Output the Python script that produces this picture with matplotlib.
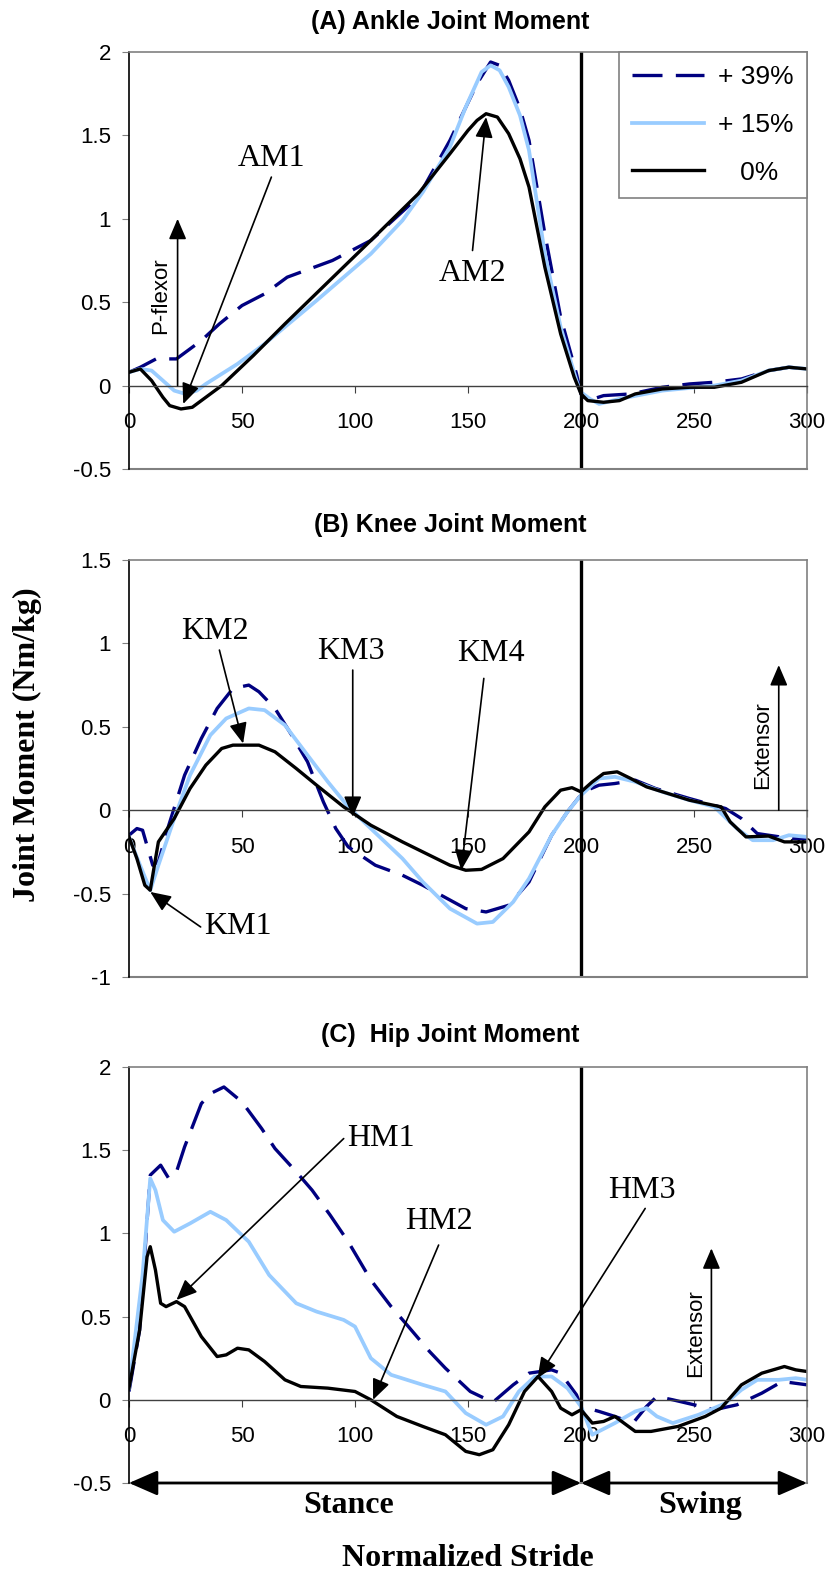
import matplotlib
matplotlib.use("Agg")
import matplotlib.pyplot as plt

# Normalized stride samples read per curve (x) and joint moments in Nm/kg (y)
# (A) ankle
ankle_x_0 = [0, 5, 10, 15, 18, 23, 28, 32, 41, 55, 69, 88, 107, 128, 142, 150, 154, 158, 163, 168, 173, 177,
             184, 191, 197, 200, 203, 210, 217, 224, 236, 248, 259, 271, 283, 292, 300]
ankle_y_0 = [0.08, 0.10, 0.03, -0.07, -0.12, -0.14, -0.13, -0.09, 0.0, 0.18, 0.37, 0.62, 0.87, 1.15, 1.39,
             1.53, 1.59, 1.63, 1.61, 1.51, 1.36, 1.19, 0.71, 0.31, 0.05, -0.05, -0.09, -0.10, -0.09, -0.05, -0.02,
             -0.01, -0.01, 0.02, 0.09, 0.11, 0.10]
ankle_x_15 = [0, 5, 10, 15, 20, 25, 30, 34, 48, 60, 83, 107, 121, 130, 142, 149, 156, 160, 164, 168, 173,
              177, 184, 191, 198, 200, 204, 208, 217, 236, 259, 271, 283, 292, 300]
ankle_y_15 = [0.08, 0.10, 0.09, 0.03, -0.03, -0.05, -0.03, 0.01, 0.13, 0.25, 0.51, 0.79, 0.99, 1.16, 1.43,
              1.67, 1.88, 1.92, 1.89, 1.79, 1.62, 1.41, 0.79, 0.35, 0.03, -0.04, -0.08, -0.11, -0.08, -0.03,
              0.0, 0.03, 0.09, 0.11, 0.10]
ankle_x_39 = [0, 5, 12, 21, 32, 40, 50, 60, 70, 90, 107, 128, 142, 154, 160, 164, 168, 173, 177, 184, 191,
              198, 200, 203, 210, 222, 236, 248, 259, 271, 283, 292, 300]
ankle_y_39 = [0.08, 0.11, 0.16, 0.16, 0.27, 0.37, 0.48, 0.55, 0.65, 0.75, 0.87, 1.13, 1.47, 1.81, 1.94,
              1.92, 1.83, 1.66, 1.47, 0.91, 0.41, 0.07, -0.05, -0.09, -0.06, -0.05, -0.01, 0.01, 0.02, 0.04,
              0.09, 0.11, 0.10]

# (B) knee
knee_x_0 = [0, 3.5, 7, 9.4, 11, 13, 15, 20, 27, 34, 41, 46, 52, 57.5, 64.6, 74, 83, 95, 107, 121, 130, 142,
            149, 156, 165.5, 177, 184, 191, 196, 200, 205, 210, 216, 222, 229, 248, 262, 266, 273, 283, 290, 300]
knee_y_0 = [-0.16, -0.29, -0.45, -0.48, -0.35, -0.19, -0.15, -0.05, 0.13, 0.27, 0.37, 0.39, 0.39, 0.39, 0.35,
            0.25, 0.15, 0.02, -0.09, -0.19, -0.25, -0.33, -0.36, -0.355, -0.29, -0.13, 0.02, 0.12, 0.135, 0.11,
            0.17, 0.22, 0.23, 0.19, 0.14, 0.06, 0.02, -0.07, -0.16, -0.155, -0.19, -0.19]
knee_x_15 = [0, 4, 9.4, 13, 20, 27, 36, 43, 53, 60, 69, 79, 88, 97, 107, 121, 130, 142, 154, 161, 170, 177,
             187, 194, 200, 208, 215, 224, 236, 248, 259, 269, 276, 285, 292, 300]
knee_y_15 = [-0.16, -0.30, -0.48, -0.33, -0.05, 0.21, 0.45, 0.55, 0.61, 0.60, 0.51, 0.33, 0.17, 0.02, -0.11,
             -0.29, -0.43, -0.59, -0.68, -0.67, -0.55, -0.41, -0.15, -0.01, 0.09, 0.19, 0.20, 0.17, 0.11, 0.06,
             0.02, -0.11, -0.18, -0.18, -0.15, -0.16]
knee_x_39 = [0, 3.5, 6, 10.5, 13, 17.6, 24.6, 32, 39, 46, 53, 57.5, 64.6, 72, 79, 86, 91.5, 97, 109, 121, 130,
             149, 158, 168, 177, 187, 194, 201, 208, 215, 224, 233, 248, 264, 271, 278, 288, 295, 300]
knee_y_39 = [-0.15, -0.11, -0.12, -0.33, -0.31, -0.09, 0.21, 0.43, 0.61, 0.73, 0.75, 0.71, 0.61, 0.45, 0.29,
             0.05, -0.11, -0.22, -0.33, -0.39, -0.45, -0.59, -0.61, -0.57, -0.43, -0.15, -0.01, 0.11, 0.15, 0.16,
             0.18, 0.13, 0.07, 0.01, -0.05, -0.14, -0.16, -0.17, -0.17]

# (C) hip
hip_x_0 = [0, 4.7, 8, 9.4, 11.7, 14, 16.4, 21, 24.6, 32, 39, 43, 48, 53, 60, 69, 76, 88, 100, 107, 118.5, 130,
           140, 149, 155, 161, 168, 175, 181, 187, 191, 196, 200, 205, 210, 215, 224, 231, 243, 255, 262, 271,
           280, 290, 295, 300]
hip_y_0 = [0.07, 0.42, 0.86, 0.92, 0.78, 0.58, 0.56, 0.59, 0.56, 0.38, 0.26, 0.27, 0.31, 0.30, 0.23, 0.12, 0.08,
           0.07, 0.05, 0.0, -0.10, -0.16, -0.21, -0.31, -0.33, -0.30, -0.15, 0.05, 0.14, 0.05, -0.05, -0.09,
           -0.06, -0.14, -0.13, -0.10, -0.19, -0.19, -0.16, -0.10, -0.05, 0.09, 0.16, 0.20, 0.18, 0.17]
hip_x_15 = [0, 6, 9.4, 11.7, 15, 20, 27, 36, 43, 53, 62, 74, 83, 95, 100, 107, 116, 130, 140, 149, 158, 165.5,
            172.5, 179.6, 187, 194, 200, 205, 215, 224, 229, 233.6, 240.6, 252, 264, 271, 278, 287.5, 295, 300]
hip_y_15 = [0.07, 0.75, 1.33, 1.26, 1.08, 1.01, 1.06, 1.13, 1.08, 0.95, 0.75, 0.58, 0.53, 0.48, 0.44, 0.25,
            0.15, 0.09, 0.05, -0.08, -0.15, -0.10, 0.05, 0.14, 0.14, 0.07, -0.04, -0.21, -0.14, -0.07, -0.05,
            -0.10, -0.14, -0.09, -0.02, 0.06, 0.12, 0.12, 0.13, 0.12]
hip_x_39 = [0, 4.7, 9.4, 14, 17.6, 21, 24.6, 32, 36, 42, 50, 58.7, 64.6, 74, 81, 89, 97, 107, 116, 123, 133,
            140, 151, 161, 170, 177, 187, 191, 198, 200, 208, 215, 223, 229, 233.6, 240.6, 250, 259, 269, 280,
            289, 300]
hip_y_39 = [0.05, 0.42, 1.35, 1.41, 1.33, 1.37, 1.52, 1.78, 1.84, 1.88, 1.79, 1.63, 1.51, 1.37, 1.26, 1.11,
            0.95, 0.72, 0.56, 0.45, 0.29, 0.19, 0.05, -0.015, 0.09, 0.16, 0.18, 0.16, 0.03, -0.04, -0.07, -0.10,
            -0.14, -0.04, 0.02, 0.0, -0.03, -0.06, -0.03, 0.04, 0.11, 0.09]

labels = ["+ 39%", "+ 15%", "   0%"]
titles = ["(A) Ankle Joint Moment", "(B) Knee Joint Moment", "(C)  Hip Joint Moment"]
ylims = [(-0.5, 2), (-1, 1.5), (-0.5, 2)]
yticks = [[-0.5, 0, 0.5, 1, 1.5, 2], [-1, -0.5, 0, 0.5, 1, 1.5], [-0.5, 0, 0.5, 1, 1.5, 2]]
xticks = [0, 50, 100, 150, 200, 250, 300]
toe_off = 200

navy = "#000080"
light = "#99ccff"
sans = ["Liberation Sans", "DejaVu Sans"]
serif = ["Liberation Serif", "DejaVu Serif"]
plt.rcParams["font.family"] = sans

fig = plt.figure(figsize=(8.3, 15.73), dpi=100)
left, width = 129 / 830, 678 / 830
H = 1573
boxes = [(52, 469), (560, 977), (1067, 1483)]
title_y = [22, 525, 1035]

curves = [
    [(ankle_x_39, ankle_y_39), (ankle_x_15, ankle_y_15), (ankle_x_0, ankle_y_0)],
    [(knee_x_39, knee_y_39), (knee_x_15, knee_y_15), (knee_x_0, knee_y_0)],
    [(hip_x_39, hip_y_39), (hip_x_15, hip_y_15), (hip_x_0, hip_y_0)],
]

arrow = dict(arrowstyle="-|>,head_length=0.7,head_width=0.3", color="black", lw=1.2,
             shrinkA=0, shrinkB=0, mutation_scale=18)
axs = []
for i in range(3):
    top, bot = boxes[i]
    ax = fig.add_axes([left, 1 - bot / H, width, (bot - top) / H])
    axs.append(ax)
    (x39, y39), (x15, y15), (x0, y0) = curves[i]
    ax.plot(x39, y39, color=navy, lw=2.4, dashes=(9, 4), label=labels[0])
    ax.plot(x15, y15, color=light, lw=2.7, label=labels[1])
    ax.plot(x0, y0, color="black", lw=2.4, label=labels[2])
    ax.axvline(toe_off, color="black", lw=2.4)
    ax.set_xlim(0, 300)
    ax.set_ylim(*ylims[i])
    ax.set_xticks(xticks)
    ax.set_yticks(yticks[i])
    ax.set_yticklabels([f"{v:g}" for v in yticks[i]])
    # x axis crosses at zero, frame kept around the plot area
    ax.spines["bottom"].set_position(("data", 0))
    ax.spines["bottom"].set_color("#404040")
    ax.spines["bottom"].set_linewidth(1.0)
    for s in ["top", "right"]:
        ax.spines[s].set_color("#808080")
        ax.spines[s].set_linewidth(1.2)
    ax.spines["left"].set_color("black")
    ax.spines["left"].set_linewidth(1.2)
    ax.axhline(ylims[i][0], color="#808080", lw=1.5, clip_on=False)
    ax.tick_params(axis="x", direction="out", length=5, pad=14, labelsize=16, color="#404040")
    ax.tick_params(axis="y", direction="out", length=5, pad=8, labelsize=16, color="#808080")
    fig.text(450 / 830, 1 - title_y[i] / H, titles[i], ha="center", va="center",
             fontsize=18, fontweight="bold")

# (A) annotations and legend
ax = axs[0]
ax.annotate("", xy=(21.5, 1.0), xytext=(21.5, 0), arrowprops=arrow)
ax.text(14, 0.54, "P-flexor", rotation=90, ha="center", va="center", fontsize=16)
ax.text(63, 1.36, "AM1", ha="center", va="center", fontsize=23, family=serif)
ax.annotate("", xy=(24, -0.11), xytext=(63, 1.25), arrowprops=arrow)
ax.text(152, 0.67, "AM2", ha="center", va="center", fontsize=23, family=serif)
ax.annotate("", xy=(158, 1.61), xytext=(152, 0.81), arrowprops=arrow)
leg = ax.legend(loc="upper right", bbox_to_anchor=(1, 1), borderaxespad=0, fancybox=False,
                edgecolor="#808080", fontsize=19, handlelength=2.7, handletextpad=0.55,
                labelspacing=0.9, borderpad=0.5, framealpha=1)
leg.get_frame().set_linewidth(1.2)

# (B) annotations
ax = axs[1]
ax.text(38, 1.07, "KM2", ha="center", va="center", fontsize=23, family=serif)
ax.annotate("", xy=(50.5, 0.40), xytext=(40, 0.96), arrowprops=arrow)
ax.text(98, 0.95, "KM3", ha="center", va="center", fontsize=23, family=serif)
ax.annotate("", xy=(99, -0.04), xytext=(99, 0.84), arrowprops=arrow)
ax.text(160, 0.94, "KM4", ha="center", va="center", fontsize=23, family=serif)
ax.annotate("", xy=(147, -0.36), xytext=(157, 0.79), arrowprops=arrow)
ax.text(48, -0.70, "KM1", ha="center", va="center", fontsize=23, family=serif)
ax.annotate("", xy=(9.4, -0.49), xytext=(31.7, -0.70), arrowprops=arrow)
ax.annotate("", xy=(287.5, 0.87), xytext=(287.5, 0), arrowprops=arrow)
ax.text(280.5, 0.39, "Extensor", rotation=90, ha="center", va="center", fontsize=16)

# (C) annotations
ax = axs[2]
ax.text(111.5, 1.57, "HM1", ha="center", va="center", fontsize=23, family=serif)
ax.annotate("", xy=(21, 0.60), xytext=(95, 1.57), arrowprops=arrow)
ax.text(137, 1.07, "HM2", ha="center", va="center", fontsize=23, family=serif)
ax.annotate("", xy=(108, 0.0), xytext=(137, 0.93), arrowprops=arrow)
ax.text(227, 1.26, "HM3", ha="center", va="center", fontsize=23, family=serif)
ax.annotate("", xy=(180.8, 0.13), xytext=(228.4, 1.15), arrowprops=arrow)
ax.annotate("", xy=(257.7, 0.91), xytext=(257.7, 0), arrowprops=arrow)
ax.text(250.7, 0.40, "Extensor", rotation=90, ha="center", va="center", fontsize=16)

# stance / swing phases along the bottom edge
phase = dict(arrowstyle="<|-|>,head_length=0.8,head_width=0.35", color="black", lw=2,
             shrinkA=0, shrinkB=0, mutation_scale=22)
ax.annotate("", xy=(0, -0.5), xytext=(toe_off, -0.5), arrowprops=phase, annotation_clip=False)
ax.annotate("", xy=(toe_off, -0.5), xytext=(300, -0.5), arrowprops=phase, annotation_clip=False)
ax.annotate("Stance", xy=(97, -0.5), xytext=(0, -16), textcoords="offset points", ha="center",
            va="center", fontsize=23, fontweight="bold", family=serif, annotation_clip=False)
ax.annotate("Swing", xy=(252.6, -0.5), xytext=(0, -16), textcoords="offset points", ha="center",
            va="center", fontsize=23, fontweight="bold", family=serif, annotation_clip=False)

fig.text(27 / 830, 1 - 745 / H, "Joint Moment (Nm/kg)", rotation=90, ha="center", va="center",
         fontsize=23, fontweight="bold", family=serif)
fig.text(468 / 830, 1 - 1558 / H, "Normalized Stride", ha="center", va="center",
         fontsize=23, fontweight="bold", family=serif)

fig.savefig("out.png", dpi=100)
